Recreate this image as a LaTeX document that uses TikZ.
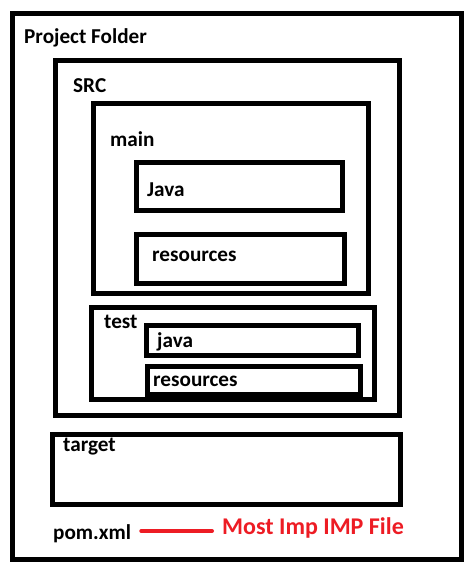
\documentclass[tikz,border=0pt]{standalone}
\usepackage{fontspec}
\setmainfont{Carlito}
\usepackage{tikz}
\usetikzlibrary{calc,positioning}
\definecolor{impred}{RGB}{237,28,36}

\tikzset{
  folder/.style={draw=black, line width=5pt},
  lbl/.style={anchor=base west, inner sep=0pt, font=\bfseries\fontsize{21.2}{25}\selectfont},
  note/.style={lbl, text=impred, font=\bfseries\fontsize{24}{28}\selectfont},
  link/.style={draw=impred, line width=4pt, line cap=round}
}

\begin{document}
\begin{tikzpicture}[x=1pt,y=-1pt]
 \useasboundingbox (0,0) rectangle (472,570);
 % folder boxes: left/top/right/bottom
 \foreach \xa/\ya/\xb/\yb in {12.5/13/461/559, 55.5/60.5/399.5/415.5,
     93.5/103.5/368.5/293, 136.5/162/342.5/210.5, 136.5/234/344.5/283.5,
     91.5/307.5/374.5/399.5, 146.5/325.5/358.5/355.5, 147.5/366.5/360.5/394.5,
     52.5/434.5/400.5/504.5}{
   \draw[folder] (\xa,\ya) rectangle (\xb,\yb);
 }
 % labels
 \node[lbl] (project) at (24,43) {Project Folder};
 \node[lbl] (src) at (73,92) {SRC};
 \node[lbl] (main) at (110,146.7) {main};
 \node[lbl] (mainjava) at (147,196.7) {Java};
 \node[lbl] (mainres) at (152,261.7) {resources};
 \node[lbl] (test) at (104,328.7) {test};
 \node[lbl] (testjava) at (157,347) {java};
 \node[lbl] (testres) at (153,386.7) {resources};
 \node[lbl] (target) at (63,451.7) {target};
 \node[lbl] (pom) at (53,539.3) {pom.xml};
 \node[note] (imp) at (222,534) {Most Imp IMP File};
 % pom.xml pointer
 \draw[link] ([xshift=10pt,yshift=8.3pt]pom.base east)
   -- ([xshift=-10pt,yshift=8.3pt]pom.base east -| imp.west);
\end{tikzpicture}
\end{document}
